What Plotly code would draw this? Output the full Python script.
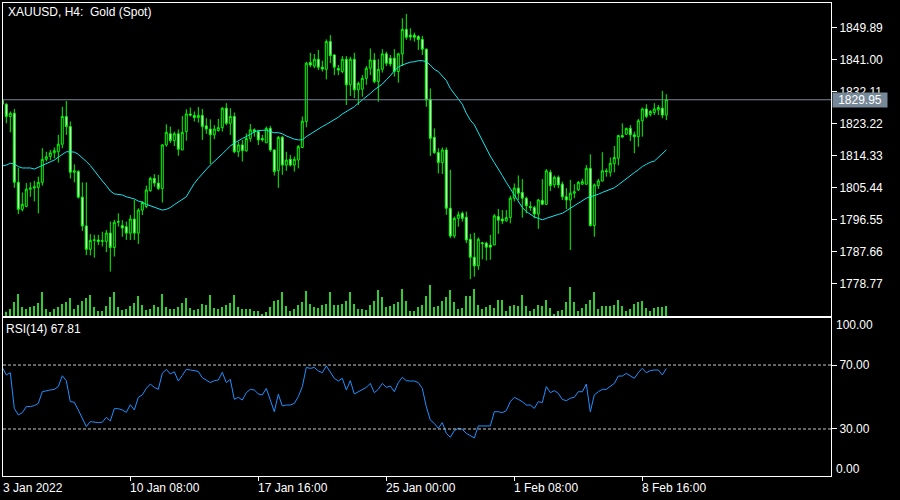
import plotly.graph_objects as go

# ---------------- data ----------------
opens = [1829.8, 1828.7, 1825.3, 1826.2, 1807.0, 1799.5, 1800.3, 1805.1, 1805.4, 1805.6,
         1807.0, 1813.4, 1814.2, 1815.2, 1815.5, 1817.6, 1825.3, 1822.5, 1809.8, 1810.0,
         1802.9, 1794.9, 1788.4, 1790.9, 1791.0, 1790.6, 1790.6, 1792.9, 1788.9, 1795.9,
         1795.0, 1794.7, 1792.9, 1796.8, 1792.9, 1799.3, 1800.3, 1804.7, 1808.1, 1806.8,
         1805.3, 1817.4, 1820.5, 1818.6, 1820.5, 1816.0, 1821.1, 1826.0, 1825.6, 1825.0,
         1825.6, 1822.7, 1821.8, 1820.2, 1821.4, 1822.2, 1827.6, 1823.4, 1825.3, 1815.5,
         1817.4, 1815.8, 1819.2, 1821.6, 1821.1, 1819.2, 1818.0, 1822.0, 1816.0, 1810.3,
         1819.5, 1811.8, 1813.4, 1811.8, 1813.2, 1816.7, 1823.9, 1840.3, 1839.3, 1841.2,
         1839.0, 1838.4, 1846.1, 1842.4, 1838.6, 1837.8, 1841.2, 1834.1, 1841.2, 1832.7,
         1832.9, 1835.9, 1838.7, 1841.0, 1835.0, 1838.4, 1842.7, 1841.5, 1841.5, 1837.8,
         1842.7, 1849.5, 1847.9, 1847.9, 1847.5, 1846.7, 1844.0, 1830.1, 1819.5, 1815.3,
         1812.5, 1816.0, 1799.8, 1792.1, 1797.0, 1798.4, 1797.3, 1791.2, 1786.2, 1783.8,
         1790.2, 1790.1, 1789.6, 1789.6, 1797.5, 1796.8, 1796.3, 1797.2, 1802.6, 1805.4,
         1804.2, 1802.6, 1800.3, 1800.0, 1798.2, 1802.0, 1800.9, 1809.8, 1806.3, 1808.4,
         1806.5, 1803.0, 1802.1, 1804.0, 1804.9, 1806.5, 1806.5, 1810.9, 1795.0, 1806.1,
         1807.4, 1810.2, 1809.8, 1812.2, 1813.7, 1820.0, 1820.4, 1822.0, 1820.2, 1819.7,
         1824.1, 1827.4, 1825.9, 1826.4, 1827.1, 1827.6, 1825.7]

highs = [1830.3, 1829.0, 1826.7, 1827.4, 1811.1, 1804.2, 1806.8, 1807.0, 1807.4, 1808.6,
         1816.5, 1815.5, 1816.0, 1816.7, 1820.2, 1828.0, 1829.6, 1823.9, 1812.0, 1810.4,
         1807.0, 1807.0, 1792.6, 1792.4, 1792.4, 1793.3, 1793.8, 1796.1, 1796.6, 1798.4,
         1796.5, 1796.1, 1797.9, 1802.1, 1799.8, 1801.8, 1806.1, 1808.6, 1809.3, 1809.1,
         1817.6, 1823.1, 1822.5, 1821.1, 1821.7, 1825.4, 1827.3, 1827.8, 1826.7, 1827.9,
         1827.4, 1824.8, 1824.5, 1822.9, 1824.6, 1827.9, 1829.0, 1827.6, 1826.4, 1818.3,
         1818.8, 1820.6, 1823.2, 1822.0, 1821.6, 1820.2, 1822.5, 1822.7, 1816.2, 1819.9,
         1819.9, 1815.5, 1814.6, 1814.2, 1817.4, 1825.3, 1840.5, 1843.0, 1842.7, 1843.8,
         1840.8, 1846.7, 1847.9, 1842.6, 1839.6, 1842.1, 1842.1, 1841.9, 1843.0, 1835.0,
         1836.8, 1839.3, 1844.2, 1842.9, 1841.2, 1844.0, 1843.3, 1842.4, 1844.0, 1843.0,
         1852.6, 1853.8, 1849.8, 1848.6, 1847.9, 1847.7, 1844.2, 1833.1, 1822.0, 1816.5,
         1816.7, 1816.7, 1810.5, 1797.5, 1798.9, 1798.9, 1798.9, 1792.7, 1793.0, 1791.7,
         1790.5, 1790.5, 1792.4, 1798.2, 1799.6, 1799.3, 1799.3, 1803.3, 1806.7, 1808.9,
         1807.9, 1803.0, 1801.7, 1800.5, 1802.4, 1807.9, 1810.7, 1810.5, 1808.9, 1808.9,
         1807.2, 1805.4, 1807.7, 1806.5, 1807.4, 1808.0, 1811.8, 1814.8, 1806.7, 1808.0,
         1815.4, 1810.9, 1813.9, 1817.1, 1820.2, 1823.4, 1822.2, 1822.9, 1821.1, 1824.6,
         1827.8, 1828.7, 1827.1, 1829.0, 1828.5, 1832.4, 1831.5]

lows = [1827.6, 1823.4, 1820.9, 1805.5, 1798.2, 1798.9, 1800.1, 1803.0, 1801.7, 1798.4,
        1806.1, 1812.8, 1813.2, 1813.7, 1812.5, 1816.5, 1820.2, 1808.1, 1807.0, 1802.5,
        1793.5, 1786.8, 1786.7, 1786.1, 1789.6, 1789.2, 1787.6, 1782.2, 1786.4, 1794.7,
        1791.9, 1791.0, 1791.0, 1791.0, 1789.9, 1797.9, 1799.8, 1804.4, 1805.8, 1804.9,
        1801.4, 1816.9, 1817.9, 1817.1, 1814.4, 1816.0, 1818.6, 1825.3, 1823.9, 1823.6,
        1818.8, 1820.5, 1812.1, 1819.0, 1821.1, 1821.1, 1822.9, 1820.2, 1815.1, 1814.1,
        1812.8, 1815.5, 1818.3, 1819.7, 1817.4, 1818.3, 1818.0, 1815.5, 1808.9, 1805.5,
        1809.1, 1810.2, 1811.4, 1810.0, 1810.9, 1816.5, 1822.3, 1839.0, 1838.7, 1838.2,
        1837.8, 1835.6, 1840.1, 1836.8, 1836.8, 1837.3, 1828.5, 1831.0, 1830.4, 1828.5,
        1830.8, 1834.1, 1836.8, 1834.5, 1829.4, 1837.5, 1839.3, 1839.2, 1836.4, 1834.7,
        1839.3, 1846.6, 1846.4, 1846.1, 1843.8, 1842.4, 1828.0, 1814.3, 1814.9, 1809.5,
        1809.3, 1798.0, 1791.5, 1791.5, 1794.7, 1796.1, 1790.1, 1780.1, 1780.8, 1782.7,
        1785.6, 1785.3, 1785.5, 1789.6, 1792.7, 1795.4, 1796.1, 1795.6, 1801.7, 1802.1,
        1797.2, 1798.4, 1799.1, 1797.0, 1794.1, 1800.7, 1800.7, 1804.6, 1805.5, 1805.4,
        1802.1, 1799.6, 1788.2, 1802.6, 1804.6, 1806.3, 1806.3, 1794.7, 1791.9, 1805.2,
        1807.2, 1808.6, 1808.6, 1809.8, 1811.7, 1819.4, 1820.2, 1818.5, 1815.1, 1816.9,
        1819.7, 1824.8, 1825.3, 1825.7, 1825.7, 1824.8, 1824.3]

closes = [1828.7, 1825.3, 1826.2, 1807.0, 1799.5, 1800.9, 1805.1, 1805.4, 1805.8, 1807.0,
          1813.4, 1814.1, 1815.2, 1815.8, 1817.6, 1825.3, 1822.5, 1809.8, 1810.2, 1802.9,
          1794.9, 1788.4, 1790.9, 1791.0, 1790.6, 1790.8, 1792.9, 1788.9, 1795.9, 1796.1,
          1794.3, 1792.9, 1796.8, 1792.9, 1799.3, 1801.4, 1804.9, 1808.1, 1806.8, 1805.3,
          1817.4, 1820.9, 1818.6, 1820.5, 1816.2, 1820.9, 1826.0, 1825.7, 1825.0, 1825.6,
          1822.5, 1821.8, 1820.2, 1821.8, 1822.2, 1827.6, 1823.4, 1825.3, 1815.5, 1817.4,
          1815.8, 1819.2, 1821.6, 1821.1, 1818.8, 1818.8, 1822.0, 1816.0, 1810.0, 1819.5,
          1811.8, 1813.2, 1811.8, 1813.4, 1816.9, 1824.0, 1840.1, 1839.6, 1841.2, 1839.0,
          1838.5, 1846.1, 1842.2, 1839.0, 1838.2, 1841.2, 1834.1, 1841.2, 1832.7, 1834.5,
          1835.9, 1838.7, 1841.0, 1835.0, 1838.4, 1842.7, 1840.1, 1839.9, 1837.8, 1842.7,
          1849.5, 1847.3, 1847.4, 1847.3, 1846.7, 1844.0, 1829.9, 1819.2, 1815.3, 1812.5,
          1816.0, 1799.8, 1792.1, 1797.0, 1798.0, 1797.0, 1791.0, 1786.2, 1783.8, 1791.2,
          1790.0, 1789.0, 1789.0, 1797.7, 1796.5, 1796.3, 1797.2, 1802.6, 1805.4, 1804.0,
          1802.6, 1800.5, 1800.0, 1798.2, 1802.1, 1800.9, 1810.2, 1806.1, 1808.4, 1806.3,
          1803.0, 1802.1, 1804.0, 1804.4, 1807.0, 1807.2, 1810.9, 1795.0, 1806.3, 1807.4,
          1810.2, 1810.0, 1812.3, 1813.9, 1820.0, 1819.6, 1822.0, 1820.2, 1819.7, 1824.1,
          1827.4, 1825.3, 1826.7, 1827.4, 1827.8, 1825.7, 1829.95]

ma_values = [1811.6, 1811.8, 1812.3, 1812.1, 1811.4, 1811.0, 1811.0, 1811.0, 1810.7, 1811.2,
             1811.8, 1812.3, 1812.8, 1813.2, 1814.0, 1814.8, 1815.5, 1815.5, 1815.4, 1814.8,
             1813.9, 1812.8, 1811.7, 1810.2, 1808.8, 1807.4, 1806.1, 1804.6, 1803.8, 1803.7,
             1803.5, 1803.0, 1802.8, 1802.4, 1801.8, 1801.5, 1800.9, 1800.5, 1800.3, 1799.8,
             1799.3, 1799.5, 1800.0, 1800.8, 1801.6, 1802.2, 1803.0, 1804.9, 1806.7, 1808.1,
             1809.5, 1810.6, 1811.8, 1812.8, 1813.7, 1814.9, 1816.0, 1817.1, 1817.9, 1818.6,
             1819.2, 1819.7, 1820.4, 1821.0, 1821.4, 1821.5, 1821.5, 1821.1, 1820.8, 1820.8,
             1820.5, 1819.9, 1819.4, 1819.0, 1818.8, 1818.8, 1819.7, 1820.4, 1821.3, 1821.8,
             1822.5, 1823.1, 1823.7, 1824.3, 1825.1, 1826.0, 1826.7, 1827.3, 1828.0, 1829.0,
             1829.9, 1830.6, 1831.7, 1832.7, 1833.4, 1834.3, 1835.5, 1836.6, 1838.0, 1839.0,
             1839.6, 1840.1, 1840.4, 1840.5, 1840.8, 1840.8, 1840.5, 1839.6, 1838.4, 1837.8,
             1836.6, 1835.3, 1833.1, 1831.7, 1830.4, 1828.7, 1826.2, 1824.3, 1823.0, 1820.8,
             1818.3, 1816.5, 1814.3, 1812.5, 1810.8, 1808.9, 1807.0, 1805.2, 1803.5, 1801.5,
             1800.0, 1798.9, 1798.1, 1797.4, 1797.0, 1796.6, 1797.0, 1797.4, 1797.9, 1798.1,
             1798.4, 1799.1, 1799.8, 1800.5, 1801.2, 1802.0, 1802.6, 1803.0, 1803.3, 1803.7,
             1804.2, 1804.6, 1805.1, 1805.5, 1806.3, 1807.2, 1808.1, 1808.9, 1809.7, 1810.5,
             1811.4, 1812.0, 1812.6, 1812.9, 1813.9, 1815.1, 1816.0]

volumes = [10000, 4300, 7000, 14000, 22000, 9000, 7000, 9000, 10000, 13000,
           24000, 7000, 4000, 7000, 9000, 12000, 14000, 18000, 7000, 11000,
           15000, 18000, 21000, 9000, 5000, 5000, 10000, 19000, 24000, 9000,
           6000, 7000, 10000, 13000, 20000, 11000, 6000, 7000, 11000, 9000,
           22000, 9000, 7000, 7000, 9000, 13000, 18000, 8000, 6000, 7000,
           12000, 11000, 21000, 8000, 7000, 9000, 11000, 13000, 21000, 9000,
           7000, 7000, 7000, 5000, 5000, 2000, 4000, 9000, 15000, 16000,
           24000, 10000, 5000, 7000, 11000, 14000, 25000, 12000, 9000, 8000,
           11000, 12000, 24000, 11000, 11000, 12000, 15000, 24000, 12000, 7000,
           7000, 6000, 11000, 15000, 26000, 19000, 9000, 10000, 12000, 14000,
           27000, 15000, 5000, 5000, 9000, 11000, 20000, 31000, 9000, 10000,
           15000, 19000, 26000, 14000, 7000, 8000, 20000, 20000, 27000, 11000,
           7000, 9000, 11000, 8000, 16000, 16000, 5000, 10000, 11000, 10000,
           21000, 10000, 5000, 7000, 11000, 10000, 16000, 8000, 2000, 5000,
           6000, 14000, 29000, 14000, 5000, 8000, 12000, 16000, 24000, 7000,
           10000, 10000, 10000, 11000, 16000, 10000, 5000, 7000, 12000, 14000,
           15000, 8000, 5000, 8000, 9000, 9000, 10000]

rsi_values = [68.5, 63.8, 65.2, 42.9, 38.8, 40.2, 44.0, 44.0, 44.6, 46.0,
              53.3, 54.0, 54.4, 54.8, 56.5, 63.3, 60.2, 47.1, 46.7, 41.9,
              36.7, 31.5, 34.6, 34.2, 34.0, 34.2, 37.3, 35.0, 42.7, 42.7,
              41.9, 40.4, 45.2, 41.9, 49.8, 51.3, 55.4, 58.1, 56.0, 54.8,
              64.8, 67.3, 64.4, 65.8, 60.0, 63.5, 67.3, 66.9, 66.3, 66.0,
              62.1, 60.6, 59.0, 60.2, 60.6, 65.4, 59.0, 61.0, 48.5, 49.8,
              48.1, 52.7, 54.8, 54.4, 51.9, 51.3, 55.4, 48.1, 40.8, 51.7,
              44.4, 45.0, 45.0, 46.0, 50.2, 56.5, 68.5, 67.9, 68.5, 66.3,
              65.2, 69.4, 65.8, 61.7, 60.0, 61.7, 54.4, 60.2, 51.9, 53.3,
              54.4, 56.0, 58.5, 52.7, 54.8, 58.5, 56.0, 56.9, 53.3, 59.0,
              62.3, 60.2, 60.0, 60.0, 59.0, 55.4, 44.0, 35.6, 33.5, 30.4,
              34.0, 27.3, 24.8, 29.0, 30.4, 29.8, 27.3, 25.6, 24.4, 31.9,
              31.9, 31.5, 31.9, 40.8, 40.8, 40.2, 41.5, 47.1, 49.8, 48.5,
              47.1, 45.0, 45.0, 42.9, 47.1, 46.5, 56.5, 52.7, 54.0, 52.3,
              48.5, 47.7, 49.2, 49.8, 53.3, 53.3, 58.1, 40.8, 51.3, 53.3,
              54.8, 54.8, 56.5, 58.5, 63.1, 63.1, 64.8, 63.1, 61.7, 65.2,
              67.9, 65.2, 66.5, 66.9, 66.9, 63.8, 67.81]

price_ticks = [1849.89, 1841.00, 1832.11, 1823.22, 1814.33, 1805.44, 1796.55, 1787.66, 1778.77]
date_labels = ["3 Jan 2022", "10 Jan 08:00", "17 Jan 16:00", "25 Jan 00:00", "1 Feb 08:00", "8 Feb 16:00"]
date_bars = [0, 32, 64, 96, 128, 160]
rsi_levels = [70, 30]
last_price = 1829.95
rsi_last = 67.81
chart_title = "XAUUSD, H4:\u00a0 Gold (Spot)"

n = len(closes)
for arr in (opens, highs, lows, ma_values, volumes, rsi_values):
    assert len(arr) == n, len(arr)
bars = list(range(n))

# ---------------- styling ----------------
FONT = "Liberation Sans, Arial, sans-serif"
WHITE = "#ffffff"
CANDLE = "#00ff00"
XR = [0.175, 207.175]
MAIN_DOM = [0.3383, 1.0]
RSI_DOM = [0.0, 0.333]

fig = go.Figure()

fig.add_trace(go.Bar(x=bars, y=volumes, width=0.3, marker=dict(color="#32cd32", line=dict(width=0)),
                     xaxis="x", yaxis="y3", hoverinfo="skip"))
fig.add_trace(go.Candlestick(
    x=bars, open=opens, high=highs, low=lows, close=closes,
    increasing=dict(line=dict(color=CANDLE, width=1), fillcolor="#000000"),
    decreasing=dict(line=dict(color=CANDLE, width=1), fillcolor="#ffffff"),
    xaxis="x", yaxis="y"))
fig.add_trace(go.Scatter(x=bars, y=ma_values, mode="lines", line=dict(color="#10e8f2", width=1),
                         xaxis="x", yaxis="y"))
fig.add_trace(go.Scatter(x=bars, y=rsi_values, mode="lines", line=dict(color="#1e90ff", width=1),
                         xaxis="x2", yaxis="y2"))

axis_common = dict(showline=True, linecolor=WHITE, linewidth=1, mirror=True,
                   showgrid=False, zeroline=False, fixedrange=True)

fig.update_layout(
    width=900, height=500,
    paper_bgcolor="#000000", plot_bgcolor="#000000",
    margin=dict(l=3, r=69, t=3, b=24),
    showlegend=False,
    font=dict(family=FONT, size=12, color=WHITE),
    xaxis=dict(domain=[0, 1], anchor="y", range=XR, showticklabels=False, ticks="",
               rangeslider=dict(visible=False), **axis_common),
    yaxis=dict(domain=MAIN_DOM, anchor="x", side="right", range=[1769.88, 1856.83],
               tickvals=price_ticks, ticktext=[f"{v:.2f}" for v in price_ticks],
               ticks="outside", ticklen=5, tickcolor=WHITE, tickwidth=1,
               tickfont=dict(family=FONT, size=12, color=WHITE), **axis_common),
    yaxis3=dict(overlaying="y", range=[0, 313000], visible=False, fixedrange=True),
    xaxis2=dict(domain=[0, 1], anchor="y2", range=XR, showticklabels=False,
                tickvals=date_bars[1:], ticks="outside", ticklen=4, tickcolor=WHITE, **axis_common),
    yaxis2=dict(domain=RSI_DOM, anchor="x2", side="right", range=[0.6, 99.1],
                tickvals=rsi_levels, ticktext=[f"{v:.2f}" for v in rsi_levels],
                ticks="outside", ticklen=5, tickcolor=WHITE, tickwidth=1,
                tickfont=dict(family=FONT, size=12, color=WHITE), **axis_common),
)

shapes = [dict(type="line", xref="paper", x0=0, x1=1, yref="y", y0=last_price, y1=last_price,
               line=dict(color="#778899", width=1))]
for lvl in rsi_levels:
    shapes.append(dict(type="line", xref="paper", x0=0, x1=1, yref="y2", y0=lvl, y1=lvl,
                       line=dict(color="#c8c8c8", width=1, dash="3px,2px")))
fig.update_layout(shapes=shapes)

ann = []
ann.append(dict(text=chart_title, xref="paper", yref="paper", x=0, y=(476 - 12) / 473,
                xanchor="left", yanchor="middle", xshift=3, showarrow=False,
                font=dict(family=FONT, size=12, color=WHITE)))
ann.append(dict(text=f"RSI(14) {rsi_last:.2f}", xref="paper", yref="paper", x=0,
                y=(476 - 329.5) / 473, xanchor="left", yanchor="middle", xshift=1,
                showarrow=False, font=dict(family=FONT, size=12, color=WHITE)))
for lbl, ypx in (("100.00", 325), ("0.00", 469)):
    ann.append(dict(text=lbl, xref="paper", yref="paper", x=1, y=(476 - ypx) / 473,
                    xanchor="left", yanchor="middle", xshift=3, showarrow=False,
                    font=dict(family=FONT, size=12, color=WHITE)))
label_y = (476 - 488) / 473
for b, lbl in zip(date_bars, date_labels):
    if b == 0:
        # first bar sits at the very left edge (outside the visible axis range)
        ann.append(dict(text=lbl, xref="paper", yref="paper", x=0, y=label_y,
                        xanchor="left", yanchor="middle", xshift=-2, showarrow=False,
                        font=dict(family=FONT, size=12, color=WHITE)))
    else:
        ann.append(dict(text=lbl, xref="x2", yref="paper", x=b, y=label_y,
                        xanchor="left", yanchor="middle", xshift=-2, showarrow=False,
                        font=dict(family=FONT, size=12, color=WHITE)))
ann.append(dict(text=f"{last_price:.2f}", xref="paper", yref="y", x=1, y=last_price,
                xanchor="left", yanchor="middle", xshift=1, showarrow=False,
                bgcolor="#778899", borderpad=1, width=52, height=12, align="center",
                font=dict(family=FONT, size=12, color=WHITE)))
fig.update_layout(annotations=ann)

fig.write_html("out.html",
               config={"displayModeBar": False},
               post_script="document.body.style.margin='0';document.body.style.overflow='hidden';")
